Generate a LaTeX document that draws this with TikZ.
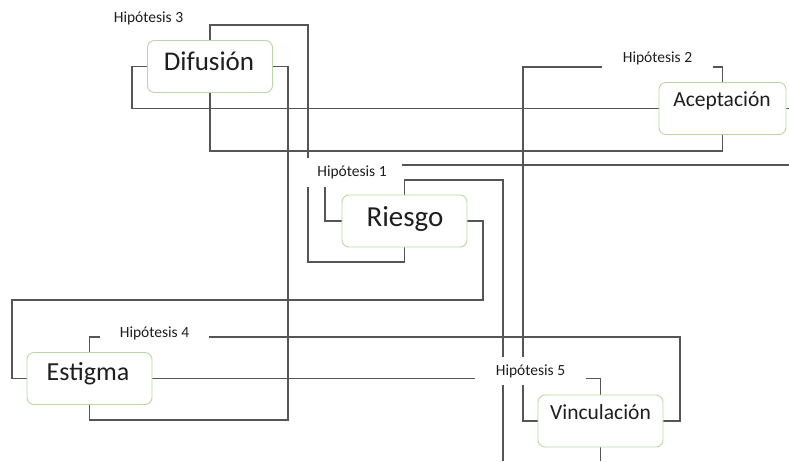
\documentclass[tikz,border=0pt]{standalone}
\usepackage{fontspec}
\setmainfont{Carlito}
\definecolor{boxgreen}{RGB}{185,215,165}
\definecolor{linegray}{RGB}{85,85,85}
\definecolor{txt}{RGB}{30,30,30}
\pgfdeclarelayer{background}
\pgfsetlayers{background,main}
\begin{document}
\begin{tikzpicture}[x=1pt,y=-1pt,
  concept/.style={draw=boxgreen, line width=0.9pt, rounded corners=7pt, fill=white,
    minimum width=125pt, minimum height=52pt, inner sep=0pt},
  word/.style={anchor=base, text=txt, inner sep=0pt},
  hyp/.style={fill=white, text=txt, inner sep=0pt, font=\fontsize{15.5}{18}\selectfont},
  link/.style={draw=linegray, line width=1.2pt}]
\useasboundingbox (0,0) rectangle (789,461);

% concept boxes
\node[concept] (dif) at (210,66.5) {};
\node[concept, minimum width=127pt] (acc) at (722.5,108.5) {};
\node[concept] (rie) at (404.5,221) {};
\node[concept] (est) at (89.5,378.5) {};
\node[concept] (vin) at (600.5,421) {};

% concept texts
\node[word, font=\fontsize{27}{30}\selectfont] (difT) at (209,70) {Difusión};
\node[word, font=\fontsize{21.5}{24}\selectfont] (accT) at (722,106) {Aceptación};
\node[word, font=\fontsize{29}{32}\selectfont] (rieT) at (405,226) {Riesgo};
\node[word, font=\fontsize{26}{29}\selectfont] (estT) at (88,380) {Estigma};
\node[word, font=\fontsize{21.5}{24}\selectfont] (vinT) at (600.5,419) {Vinculación};

% hypothesis labels
\node[hyp] (h3) at (148.5,18) {Hipótesis 3};
\node[hyp, minimum width=111pt, minimum height=26pt] (h2) at (657.5,58) {Hipótesis 2};
\node[hyp, minimum width=96pt, minimum height=29pt] (h1) at (352,172.5) {Hipótesis 1};
\node[hyp, minimum width=109pt, minimum height=24pt] (h4) at (154.5,333) {Hipótesis 4};
\node[hyp, minimum width=111pt, minimum height=28pt] (h5) at (530.5,371) {Hipótesis 5};

% free ends
\coordinate (accout) at (789,108.5);
\coordinate (r1) at (402,165);
\coordinate (r2) at (789,165);
\coordinate (rieout) at (503,461);
\coordinate (vinout) at (600.5,461);

\begin{pgfonlayer}{background}
\draw[link] (dif.west) -- ++(-15,0) |- (acc.west);
\draw[link] (dif.east) -| (288,420) -| (est.south);
\draw[link] (dif.north) |- (308,25) -- (308,262) -| (rie.south);
\draw[link] (dif.south) |- (acc.south |- 0,151) -- (acc.south);
\draw[link] (acc.north) |- (523,67) |- (vin.west);
\draw[link] (acc.east) -- (accout);
\draw[link] (r1) -- (r2);
\draw[link] (rie.west) -| ([xshift=-27pt]h1.south);
\draw[link] (rie.north) |- (503,180) -- (rieout);
\draw[link] (rie.east) -| (483,300) -- (12,300) |- (est.west);
\draw[link] (est.north) |- (680,337) |- (vin.east);
\draw[link] (est.east) -| (vin.north);
\draw[link] (vin.south) -- (vinout);
\end{pgfonlayer}
\end{tikzpicture}
\end{document}
